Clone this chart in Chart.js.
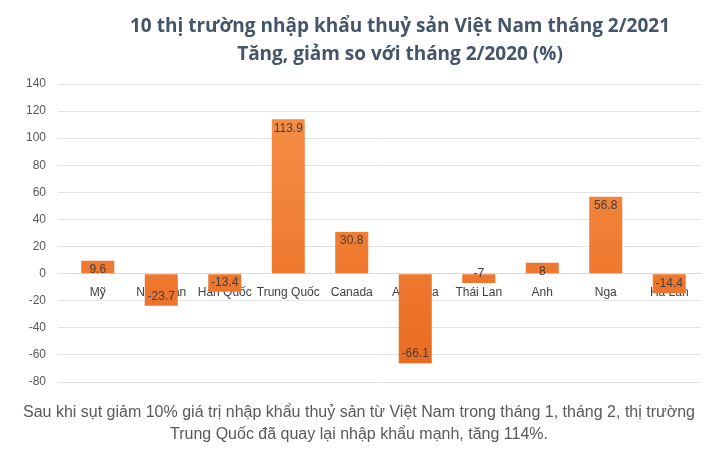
<!DOCTYPE html>
<html lang="vi">
<head>
<meta charset="UTF-8">
<title>10 thị trường nhập khẩu thuỷ sản Việt Nam tháng 2/2021</title>
<script src="https://cdn.jsdelivr.net/npm/chart.js"></script>
<style>body{margin:0;background:#fff}</style>
</head>
<body>
<canvas id="bieuDo" width="715" height="452"></canvas>
<script>
var thiTruong = ['Mỹ', 'Nhật Bản', 'Hàn Quốc', 'Trung Quốc', 'Canada', 'Australia', 'Thái Lan', 'Anh', 'Nga', 'Hà Lan'];
var tangGiam = [9.6, -23.7, -13.4, 113.9, 30.8, -66.1, -7, 8, 56.8, -14.4];
var tieuDe = ['10 thị trường nhập khẩu thuỷ sản Việt Nam tháng 2/2021', 'Tăng, giảm so với tháng 2/2020 (%)'];
var chuThich = ['Sau khi sụt giảm 10% giá trị nhập khẩu thuỷ sản từ Việt Nam trong tháng 1, tháng 2, thị trường', 'Trung Quốc đã quay lại nhập khẩu mạnh, tăng 114%.'];

var font = '"Liberation Sans", Arial, sans-serif';

var veChu = {
    id: 'veChu',
    afterDatasetsDraw: function(chart) {
        var ctx = chart.ctx;
        var meta = chart.getDatasetMeta(0);
        ctx.save();
        ctx.font = '12px ' + font;
        ctx.fillStyle = '#404040';
        ctx.textAlign = 'center';
        ctx.textBaseline = 'middle';
        meta.data.forEach(function(bar, i) {
            var v = tangGiam[i];
            var y = v >= 0 ? bar.y + 9 : bar.y - 9;
            ctx.fillText(String(v), bar.x, y);
        });
        ctx.font = 'bold 19px "Open Sans", ' + font;
        ctx.fillStyle = '#44546a';
        ctx.fillText(tieuDe[0], 400, 27);
        ctx.fillText(tieuDe[1], 400, 55);
        ctx.font = '16px ' + font;
        ctx.fillStyle = '#595959';
        ctx.fillText(chuThich[0], 359, 413);
        ctx.fillText(chuThich[1], 359, 435);
        ctx.restore();
    }
};

var ctx = document.getElementById('bieuDo').getContext('2d');
var mau = ctx.createLinearGradient(0, 84, 0, 382);
mau.addColorStop(0, '#f7924b');
mau.addColorStop(1, '#e9691e');

new Chart(ctx, {
    type: 'bar',
    data: {
        labels: thiTruong,
        datasets: [{
            data: tangGiam,
            backgroundColor: mau,
            barPercentage: 0.52,
            categoryPercentage: 1
        }]
    },
    options: {
        responsive: false,
        animation: false,
        layout: { padding: { top: 84, bottom: 70, right: 14, left: 14 } },
        plugins: { legend: { display: false }, tooltip: { enabled: false } },
        scales: {
            x: {
                position: { y: 0 },
                grid: { display: false },
                border: { color: '#d9d9d9' },
                ticks: { color: '#404040', font: { size: 12, family: font }, padding: 4, maxRotation: 0, autoSkip: false }
            },
            y: {
                min: -80,
                max: 140,
                ticks: { stepSize: 20, color: '#595959', font: { size: 12, family: font }, padding: 12 },
                grid: { color: '#e3e3e3' },
                border: { display: false }
            }
        }
    },
    plugins: [veChu]
});
</script>
</body>
</html>
